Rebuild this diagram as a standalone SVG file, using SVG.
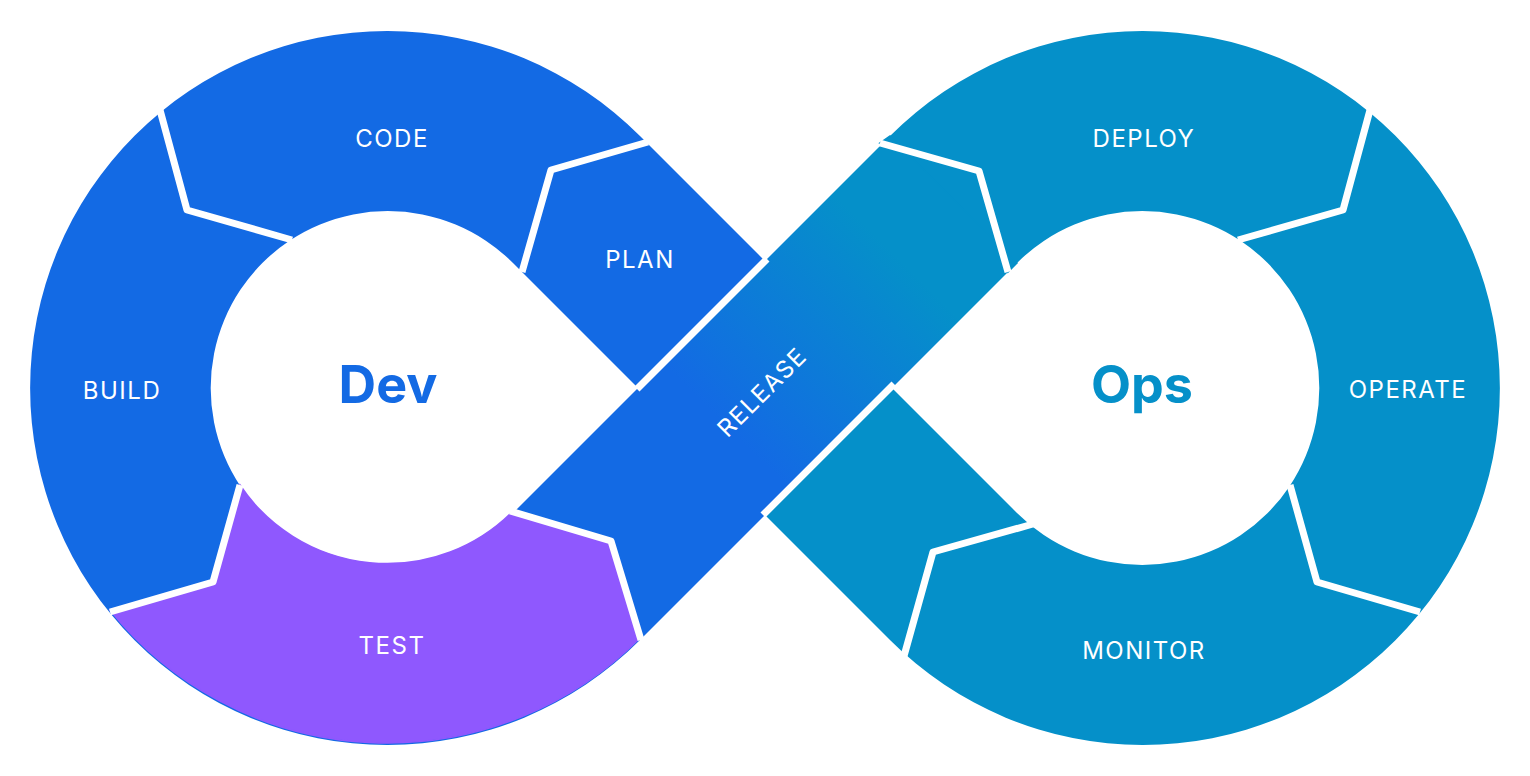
<svg xmlns="http://www.w3.org/2000/svg" width="1530" height="776" viewBox="0 0 1530 776">
<defs>
<linearGradient id="rel" gradientUnits="userSpaceOnUse" x1="730" y1="430" x2="900" y2="260">
<stop offset="0" stop-color="#136ae4"/><stop offset="1" stop-color="#0590c9"/>
</linearGradient>
<style>
.dev{fill:#136ae4}.ops{fill:#0590c9}
.div{fill:none;stroke:#fff;stroke-width:7;stroke-linejoin:round;stroke-linecap:butt}
.lbl{font-family:Inter,"Liberation Sans",sans-serif;font-size:24px;fill:#fff;letter-spacing:1.5px;text-anchor:middle}
.big{font-family:Inter,"Liberation Sans",sans-serif;font-size:52px;font-weight:bold;text-anchor:middle}
</style>
</defs>
<rect width="1530" height="776" fill="#fff"/>
<g id="dev-ring"><path class="dev" d="M640,640 A357,357 0 1 1 640,136 L830,326 L703,453 L513,263 A177,177 0 1 0 513,513 Z"/></g>
<g id="ops-ring"><path class="ops" d="M890,136 A357,357 0 1 1 890,640 L703,453 L830,326 L1017,513 A177,177 0 1 0 1017,263 Z"/></g>
<g id="release"><polygon fill="url(#rel)" points="513,513 890,136 1017,263 640,640"/></g>
<g id="deploy-corner"><polygon fill="#0590c9" stroke="#0590c9" stroke-width="1.5" points="880,143 979,171 1008,272 1017,263 890,136"/></g>
<g id="test"><path fill="#8f58fe" stroke="#8f58fe" stroke-width="1.5" d="M110,610 L213,582 L240,485 A177,177 0 0 0 512,512 L612,541 L640,638 A356,356 0 0 1 110,610 Z"/></g>
<g id="connectors">
<line class="div" x1="637" y1="389" x2="767" y2="259"/>
<line class="div" x1="763" y1="515" x2="894" y2="384"/>
<polyline class="div" points="648,142 551,170 522,272"/>
<polyline class="div" points="160,110 187,210 292,240"/>
<polyline class="div" points="240,485 213,582 110,612"/>
<polyline class="div" points="510,511 611,541 641,640"/>
<polyline class="div" points="880,143 979,171 1008,272"/>
<polyline class="div" points="1370,110 1343,210 1238,240"/>
<polyline class="div" points="1290,485 1317,582 1420,612"/>
<polyline class="div" points="1033,524 933,552 904,656"/>
</g>
<g id="labels">
<text class="lbl" x="392" y="147">CODE</text>
<text class="lbl" x="640" y="268">PLAN</text>
<text class="lbl" x="122" y="399">BUILD</text>
<text class="lbl" x="392" y="654">TEST</text>
<text class="lbl" x="1144" y="147">DEPLOY</text>
<text class="lbl" x="1408" y="398">OPERATE</text>
<text class="lbl" x="1144" y="659">MONITOR</text>
<text class="lbl" transform="translate(768,398) rotate(-45)">RELEASE</text>
<text class="big" x="388" y="403" fill="#136ae4">Dev</text>
<text class="big" x="1142" y="403" fill="#0590c9">Ops</text>
</g>
</svg>
